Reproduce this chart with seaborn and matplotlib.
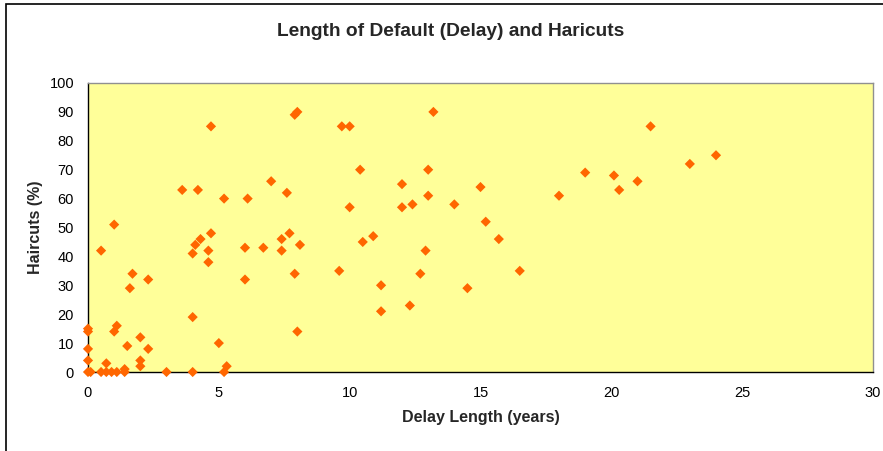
import matplotlib
matplotlib.use("Agg")
from matplotlib import pyplot as plt
from matplotlib.patches import Rectangle
import pandas as pd
import seaborn as sns

delay_years = [0, 0, 0, 0, 0, 0.1, 0.5, 0.5, 0.7, 0.7, 0.9, 1.0, 1.0, 1.1, 1.1,
               1.4, 1.4, 1.5, 1.6, 1.7, 2.0, 2.0, 2.0, 2.3, 2.3, 3.0, 3.6, 4.0,
               4.0, 4.0, 4.1, 4.2, 4.3, 4.6, 4.6, 4.7, 4.7, 5.0, 5.2, 5.2, 5.3,
               6.0, 6.0, 6.1, 6.7, 7.0, 7.4, 7.4, 7.6, 7.7, 7.9, 7.9, 8.0, 8.0,
               8.1, 9.6, 9.7, 10.0, 10.0, 10.4, 10.5, 10.9, 11.2, 11.2, 12.0,
               12.0, 12.3, 12.4, 12.7, 12.9, 13.0, 13.0, 13.2, 14.0, 14.5, 15.0,
               15.2, 15.7, 16.5, 18.0, 19.0, 20.1, 20.3, 21.0, 21.5, 23.0, 24.0]
haircut_pct = [15, 14, 8, 4, 0, 0, 42, 0, 3, 0, 0, 51, 14, 16, 0,
               0, 1, 9, 29, 34, 12, 4, 2, 32, 8, 0, 63, 41,
               19, 0, 44, 63, 46, 42, 38, 85, 48, 10, 60, 0, 2,
               43, 32, 60, 43, 66, 46, 42, 62, 48, 34, 89, 90, 14,
               44, 35, 85, 85, 57, 70, 45, 47, 30, 21, 65,
               57, 23, 58, 34, 42, 70, 61, 90, 58, 29, 64,
               52, 46, 35, 61, 69, 68, 63, 66, 85, 72, 75]
x_ticks = [0, 5, 10, 15, 20, 25, 30]
y_ticks = [0, 10, 20, 30, 40, 50, 60, 70, 80, 90, 100]

df = pd.DataFrame({"delay": delay_years, "haircut": haircut_pct})

sns.set_style("white")
plt.rcParams['font.family'] = ['Liberation Sans', 'DejaVu Sans']

fig = plt.figure(figsize=(8.83, 4.51), dpi=100)
ax = fig.add_axes([88 / 883, 79 / 451, 785 / 883, 289 / 451])
ax.set_facecolor('#FFFF99')

sns.scatterplot(data=df, x="delay", y="haircut", marker='D', s=27,
                color='#FF6600', edgecolor='none', ax=ax, clip_on=False, zorder=3)

ax.set_xlim(0, 30)
ax.set_ylim(0, 100)
ax.set_xticks(x_ticks)
ax.set_yticks(y_ticks)
ax.tick_params(direction='out', length=4, width=1, colors='#404040',
               labelcolor='black', labelsize=10.5, pad=6)

for side in ['left', 'bottom']:
    ax.spines[side].set_color('black')
    ax.spines[side].set_linewidth(1)
for side in ['top', 'right']:
    ax.spines[side].set_color('#909090')
    ax.spines[side].set_linewidth(1)

ax.set_xlabel("Delay Length (years)", fontsize=11.5, fontweight='bold', labelpad=7)
ax.set_ylabel("Haircuts (%)", fontsize=11.5, fontweight='bold', labelpad=5)
fig.text(451 / 883, 1 - 31 / 451, "Length of Default (Delay) and Haricuts",
         ha='center', va='center', fontsize=13.8, fontweight='bold')

# chart area frame, partly cut off at right and bottom
fig.patches.append(Rectangle((6 / 883, -0.05), 1.0, 1 - 4 / 451 + 0.05,
                             transform=fig.transFigure, fill=False,
                             edgecolor='black', linewidth=1.2))

fig.savefig("out.png", dpi=100)
